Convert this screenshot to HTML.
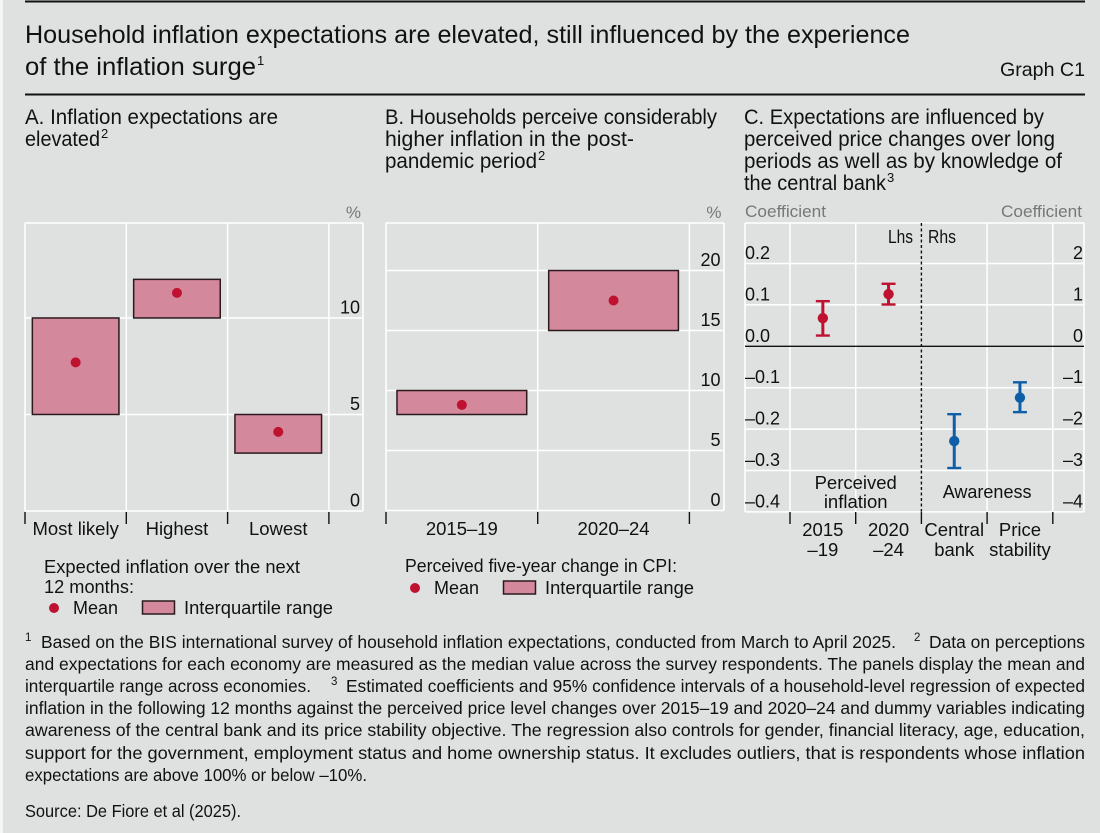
<!DOCTYPE html>
<html lang="en">
<head>
<meta charset="utf-8">
<title>Graph C1</title>
<style>
html,body{margin:0;padding:0;background:#dfe1e0;width:1100px;height:833px;overflow:hidden}
svg{display:block}
text{font-family:"Liberation Sans",sans-serif;fill:#111}
.title{font-size:25px}
.panel{font-size:21px}
.leg{font-size:18.5px}
.note{font-size:17.5px}
.sup{font-size:11.5px}
.sups{font-size:13px}
.gray{fill:#777;font-size:17px}
</style>
</head>
<body>
<svg id="chart" xmlns="http://www.w3.org/2000/svg" width="1100" height="833" viewBox="0 0 1100 833">
<rect x="0" y="0" width="1100" height="833" fill="#dfe1e0"/>
<rect x="0" y="0" width="3" height="833" fill="#f4f5f4"/>
<rect x="25" y="0.5" width="1060" height="2" fill="#111"/>
<rect x="25" y="93.5" width="1060" height="2" fill="#111"/>

<text class="title" x="25" y="43" textLength="885" lengthAdjust="spacingAndGlyphs">Household inflation expectations are elevated, still influenced by the experience</text>
<text class="title" x="25" y="75" textLength="231" lengthAdjust="spacingAndGlyphs">of the inflation surge</text>
<text class="sups" x="257" y="65">1</text>
<text x="1000" y="76" font-size="19.5" textLength="85" lengthAdjust="spacingAndGlyphs">Graph C1</text>

<text class="panel" x="25" y="124" textLength="253" lengthAdjust="spacingAndGlyphs">A. Inflation expectations are</text>
<text class="panel" x="25" y="146" textLength="75" lengthAdjust="spacingAndGlyphs">elevated</text>
<text class="sups" x="101" y="138">2</text>

<text class="panel" x="385" y="124" textLength="332" lengthAdjust="spacingAndGlyphs">B. Households perceive considerably</text>
<text class="panel" x="385" y="146" textLength="249" lengthAdjust="spacingAndGlyphs">higher inflation in the post-</text>
<text class="panel" x="385" y="168" textLength="152" lengthAdjust="spacingAndGlyphs">pandemic period</text>
<text class="sups" x="538" y="160">2</text>

<text class="panel" x="744" y="124" textLength="300" lengthAdjust="spacingAndGlyphs">C. Expectations are influenced by</text>
<text class="panel" x="744" y="146" textLength="311" lengthAdjust="spacingAndGlyphs">perceived price changes over long</text>
<text class="panel" x="744" y="168" textLength="318" lengthAdjust="spacingAndGlyphs">periods as well as by knowledge of</text>
<text class="panel" x="744" y="190" textLength="142" lengthAdjust="spacingAndGlyphs">the central bank</text>
<text class="sups" x="887" y="182">3</text>

<g id="panelA"></g>
<g id="panelB"></g>
<g id="panelC"></g>

<text class="leg" x="44" y="573" textLength="256" lengthAdjust="spacingAndGlyphs">Expected inflation over the next</text>
<text class="leg" x="44" y="593" textLength="90" lengthAdjust="spacingAndGlyphs">12 months:</text>
<circle cx="54" cy="608" r="5" fill="#bf1230"/>
<text class="leg" x="73" y="614" textLength="45" lengthAdjust="spacingAndGlyphs">Mean</text>
<rect x="142.5" y="601" width="32" height="13" fill="#d3889b" stroke="#2a1a1e" stroke-width="1.5"/>
<text class="leg" x="184" y="614" textLength="149" lengthAdjust="spacingAndGlyphs">Interquartile range</text>

<text class="leg" x="405" y="572" textLength="272" lengthAdjust="spacingAndGlyphs">Perceived five-year change in CPI:</text>
<circle cx="415" cy="588" r="5" fill="#bf1230"/>
<text class="leg" x="434" y="594" textLength="45" lengthAdjust="spacingAndGlyphs">Mean</text>
<rect x="503.5" y="581" width="32" height="13" fill="#d3889b" stroke="#2a1a1e" stroke-width="1.5"/>
<text class="leg" x="545" y="594" textLength="149" lengthAdjust="spacingAndGlyphs">Interquartile range</text>

<g>
<text class="sup" x="25" y="641">1</text>
<text class="note" x="41" y="648" textLength="855" lengthAdjust="spacingAndGlyphs">Based on the BIS international survey of household inflation expectations, conducted from March to April 2025.</text>
<text class="sup" x="914" y="641">2</text>
<text class="note" x="929" y="648" textLength="156" lengthAdjust="spacingAndGlyphs">Data on perceptions</text>
<text class="note" x="25" y="670" textLength="1060" lengthAdjust="spacingAndGlyphs">and expectations for each economy are measured as the median value across the survey respondents. The panels display the mean and</text>
<text class="note" x="25" y="692" textLength="286" lengthAdjust="spacingAndGlyphs">interquartile range across economies.</text>
<text class="sup" x="331" y="685">3</text>
<text class="note" x="346" y="692" textLength="739" lengthAdjust="spacingAndGlyphs">Estimated coefficients and 95% confidence intervals of a household-level regression of expected</text>
<text class="note" x="25" y="714" textLength="1060" lengthAdjust="spacingAndGlyphs">inflation in the following 12 months against the perceived price level changes over 2015–19 and 2020–24 and dummy variables indicating</text>
<text class="note" x="25" y="736" textLength="1060" lengthAdjust="spacingAndGlyphs">awareness of the central bank and its price stability objective. The regression also controls for gender, financial literacy, age, education,</text>
<text class="note" x="25" y="759" textLength="1060" lengthAdjust="spacingAndGlyphs">support for the government, employment status and home ownership status. It excludes outliers, that is respondents whose inflation</text>
<text class="note" x="25" y="781" textLength="342" lengthAdjust="spacingAndGlyphs">expectations are above 100% or below –10%.</text>
<text class="note" x="25" y="817" textLength="216" lengthAdjust="spacingAndGlyphs">Source: De Fiore et al (2025).</text>
</g>
</svg>
<script>
// Panel A data
const categoriesA = ['Most likely', 'Highest', 'Lowest'];
const iqrLowA = [5, 10, 3];
const iqrHighA = [10, 12, 5];
const meanA = [7.7, 11.3, 4.1];
const ticksA = [0, 5, 10];
const gridA = [5, 10];
// Panel B data
const categoriesB = ['2015–19', '2020–24'];
const iqrLowB = [8, 15];
const iqrHighB = [10, 20];
const meanB = [8.8, 17.5];
const ticksB = [0, 5, 10, 15, 20];
const gridB = [5, 10, 15, 20];
// Panel C data
const categoriesCTop = ['2015', '2020'];
const categoriesCBottom = ['–19', '–24'];
const categoriesCRightTop = ['Central', 'Price'];
const categoriesCRightBottom = ['bank', 'stability'];
const lhsMean = [0.068, 0.126];
const lhsLow = [0.026, 0.101];
const lhsHigh = [0.109, 0.151];
const rhsMean = [-2.29, -1.24];
const rhsLow = [-2.94, -1.59];
const rhsHigh = [-1.64, -0.87];
const lhsTicks = ['0.2', '0.1', '0.0', '–0.1', '–0.2', '–0.3', '–0.4'];
const lhsTickValues = [0.2, 0.1, 0, -0.1, -0.2, -0.3, -0.4];
const rhsTicks = ['2', '1', '0', '–1', '–2', '–3', '–4'];
const rhsTickValues = [2, 1, 0, -1, -2, -3, -4];

const NS = 'http://www.w3.org/2000/svg';
const RED = '#bf1230', BLUE = '#0f5fa8', PINK = '#d3889b', EDGE = '#2a1a1e', GRID = '#ffffff';

function mk(parent, tag, attrs, txt) {
  const el = document.createElementNS(NS, tag);
  for (const k in attrs) el.setAttribute(k, attrs[k]);
  if (txt !== undefined) el.textContent = txt;
  parent.appendChild(el);
  return el;
}
function linear(d0, d1, r0, r1) {
  return v => r0 + (v - d0) * (r1 - r0) / (d1 - d0);
}
function band(x0, step) {
  return i => x0 + i * step;
}
function gridLine(g, x1, y1, x2, y2) {
  const l = mk(g, 'line', {x1, y1, x2, y2, stroke: GRID, 'stroke-width': 1.5});
  
  
}
function tickMark(g, x) {
  const l = mk(g, 'line', {x1: x, y1: 512, x2: x, y2: 524, stroke: '#111', 'stroke-width': 1.4});
  
  
}

function boxPanel(g, opt) {
  const y = linear(0, opt.yMax, opt.bottom, opt.top);
  const bx = band(opt.left, opt.step);
  const n = opt.categories.length;
  gridLine(g, opt.left, opt.top, opt.right, opt.top);
  gridLine(g, opt.left, opt.bottom, opt.right, opt.bottom);
  opt.grid.forEach(v => gridLine(g, opt.left, y(v), opt.right, y(v)));
  for (let i = 0; i <= n; i++) {
    gridLine(g, bx(i), opt.top, bx(i), opt.bottom);
    tickMark(g, bx(i));
  }
  gridLine(g, opt.right, opt.top, opt.right, opt.bottom);
  opt.categories.forEach((c, i) => {
    const cx = bx(i) + opt.step / 2;
    const bw = opt.step * opt.boxFrac;
    const r = mk(g, 'rect', {x: cx - bw / 2, y: y(opt.high[i]), width: bw, height: y(opt.low[i]) - y(opt.high[i]), fill: PINK, stroke: EDGE, 'stroke-width': 1.5});
    
    
    const d = mk(g, 'circle', {cx, cy: y(opt.mean[i]), r: 5, fill: RED});
    
    
    const t = mk(g, 'text', {x: cx, y: 535, 'text-anchor': 'middle', 'font-size': 18.5}, c);
    
    
  });
  opt.ticks.forEach(v => {
    const t = mk(g, 'text', {x: opt.labelX, y: y(v) - 4.5, 'text-anchor': 'end', 'font-size': 18}, String(v));
    
    
  });
  const u = mk(g, 'text', {x: opt.labelX + 1, y: 218, 'text-anchor': 'end', class: 'gray'}, '%');
  
  
}

boxPanel(document.getElementById('panelA'), {
  categories: categoriesA, low: iqrLowA, high: iqrHighA, mean: meanA, ticks: ticksA, grid: gridA,
  left: 25, right: 363, top: 223, bottom: 511, yMax: 14.92, step: 101.3, boxFrac: 0.855, labelX: 360
});
boxPanel(document.getElementById('panelB'), {
  categories: categoriesB, low: iqrLowB, high: iqrHighB, mean: meanB, ticks: ticksB, grid: gridB,
  left: 386, right: 724, top: 223, bottom: 510.5, yMax: 23.96, step: 151.7, boxFrac: 0.855, labelX: 720.5
});

(function () {
  const g = document.getElementById('panelC');
  const left = 745, right = 1084, top = 223, bottom = 511.7;
  const yL = linear(0, 0.1, 346.3, 304.9);
  const yR = linear(0, 1, 346.3, 304.9);
  const bx = band(790, 65.7);
  gridLine(g, left, top, right, top);
  lhsTickValues.forEach(v => { if (v !== 0) gridLine(g, left, yL(v), right, yL(v)); });
  gridLine(g, left, top, left, bottom);
  gridLine(g, right, top, right, bottom);
  for (let i = 0; i <= 4; i++) {
    if (i !== 2) gridLine(g, bx(i), top, bx(i), bottom);
    tickMark(g, bx(i));
  }
  const zero = mk(g, 'line', {x1: left, y1: yL(0), x2: right, y2: yL(0), stroke: '#111', 'stroke-width': 1.4});
  
  
  const div = mk(g, 'line', {x1: bx(2), y1: top, x2: bx(2), y2: bottom, stroke: '#111', 'stroke-width': 1.4, 'stroke-dasharray': '3 2.5'});
  
  

  function errorBar(x, lo, hi, m, color, name) {
    const s = mk(g, 'line', {x1: x, y1: hi, x2: x, y2: lo, stroke: color, 'stroke-width': 3});
    
    
    const c1 = mk(g, 'line', {x1: x - 7, y1: hi, x2: x + 7, y2: hi, stroke: color, 'stroke-width': 2.4});
    
    
    const c2 = mk(g, 'line', {x1: x - 7, y1: lo, x2: x + 7, y2: lo, stroke: color, 'stroke-width': 2.4});
    
    
    const d = mk(g, 'circle', {cx: x, cy: m, r: 5.2, fill: color});
    
    
  }
  lhsMean.forEach((v, i) => {
    const x = bx(i) + 32.85;
    errorBar(x, yL(lhsLow[i]), yL(lhsHigh[i]), yL(v), RED, 'perceived-inflation');
    const t1 = mk(g, 'text', {x, y: 536, 'text-anchor': 'middle', 'font-size': 18.5}, categoriesCTop[i]);
    
    
    const t2 = mk(g, 'text', {x, y: 556, 'text-anchor': 'middle', 'font-size': 18.5}, categoriesCBottom[i]);
    
    
  });
  rhsMean.forEach((v, i) => {
    const x = bx(i + 2) + 32.85;
    errorBar(x, yR(rhsLow[i]), yR(rhsHigh[i]), yR(v), BLUE, 'awareness');
    const t1 = mk(g, 'text', {x, y: 536, 'text-anchor': 'middle', 'font-size': 18.5}, categoriesCRightTop[i]);
    
    
    const t2 = mk(g, 'text', {x, y: 556, 'text-anchor': 'middle', 'font-size': 18.5}, categoriesCRightBottom[i]);
    
    
  });
  lhsTicks.forEach((s, i) => {
    const t = mk(g, 'text', {x: 745, y: yL(lhsTickValues[i]) - 4.5, 'font-size': 18}, s);
    
    
  });
  rhsTicks.forEach((s, i) => {
    const t = mk(g, 'text', {x: 1083, y: yR(rhsTickValues[i]) - 4.5, 'text-anchor': 'end', 'font-size': 18}, s);
    
    
  });
  const cl = mk(g, 'text', {x: 745, y: 217, class: 'gray', textLength: 81, lengthAdjust: 'spacingAndGlyphs'}, 'Coefficient');
  
  
  const cr = mk(g, 'text', {x: 1001, y: 217, class: 'gray', textLength: 81, lengthAdjust: 'spacingAndGlyphs'}, 'Coefficient');
  
  
  const lhs = mk(g, 'text', {x: 888, y: 243, 'font-size': 18, textLength: 25, lengthAdjust: 'spacingAndGlyphs'}, 'Lhs');
  
  
  const rhs = mk(g, 'text', {x: 928, y: 243, 'font-size': 18, textLength: 28, lengthAdjust: 'spacingAndGlyphs'}, 'Rhs');
  
  
  const p1 = mk(g, 'text', {x: bx(1), y: 489, 'text-anchor': 'middle', 'font-size': 18.5}, 'Perceived');
  
  
  const p2 = mk(g, 'text', {x: bx(1), y: 508, 'text-anchor': 'middle', 'font-size': 18.5}, 'inflation');
  
  
  const aw = mk(g, 'text', {x: bx(3), y: 498, 'text-anchor': 'middle', 'font-size': 18}, 'Awareness');
  
  
})();
</script>
</body>
</html>
